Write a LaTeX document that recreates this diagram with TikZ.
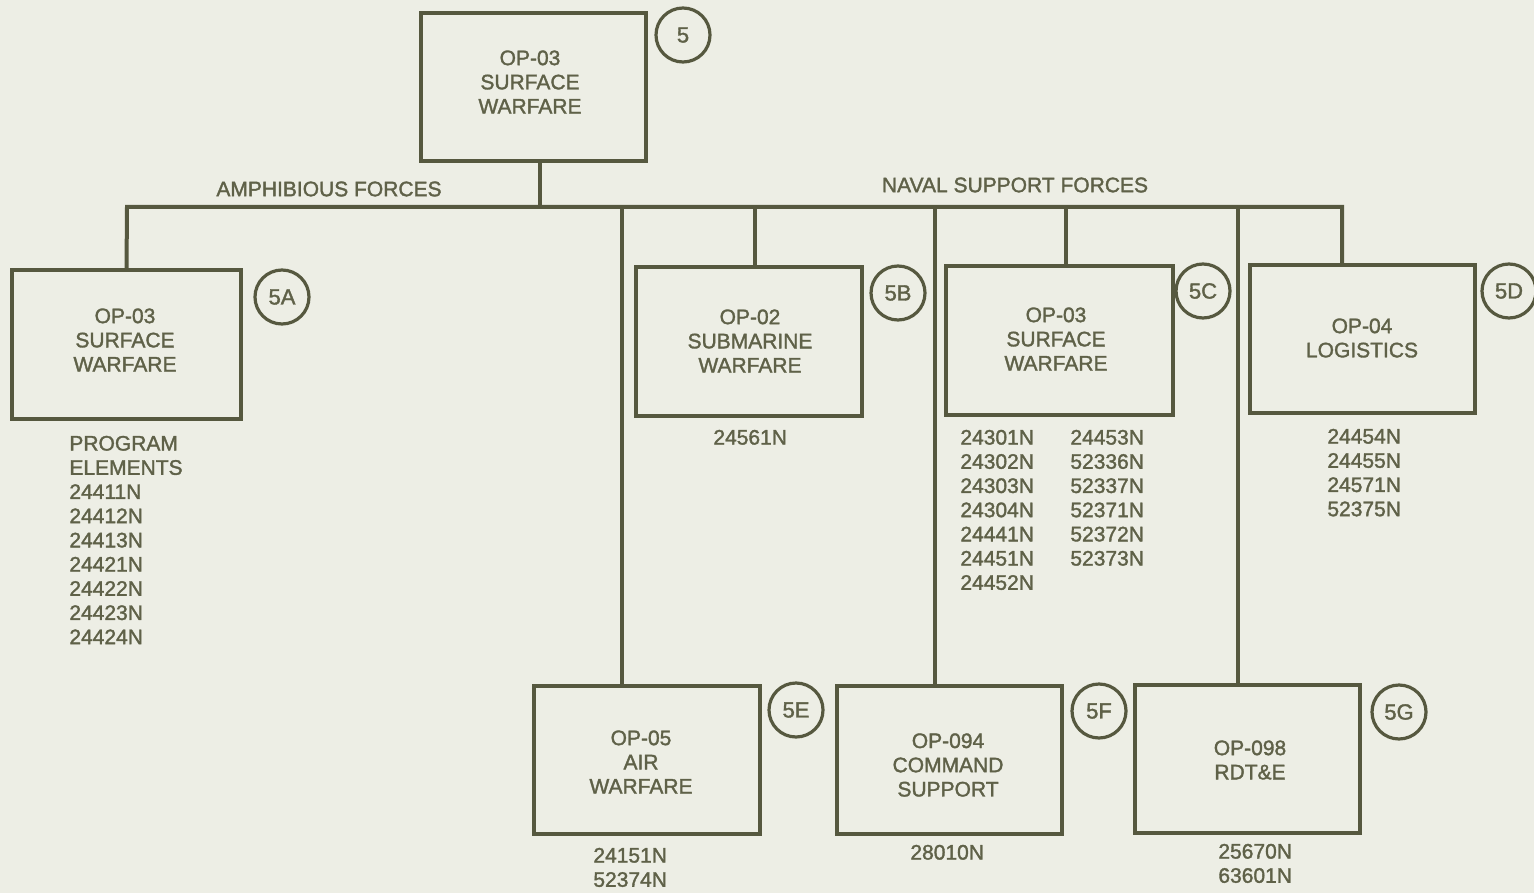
\documentclass[tikz,border=0pt]{standalone}
\usepackage{fontspec}
\setmainfont{Liberation Sans}[FakeBold=1.6]
\definecolor{bgc}{HTML}{EDEEE5}
\definecolor{inkc}{HTML}{56583F}
\definecolor{txtc}{HTML}{5F6148}
\begin{document}
\begin{tikzpicture}[x=0.5pt,y=-0.5pt,
  every node/.style={font=\fontsize{10.5}{12.1}\selectfont, text=txtc},
  orgbox/.style={draw=inkc, line width=2pt, rectangle, inner sep=0pt, outer sep=0pt},
  boxtext/.style={align=center, inner sep=0pt},
  tag/.style={draw=inkc, line width=1.6pt, circle, minimum size=27pt, inner sep=0pt, font=\fontsize{11}{12}\selectfont},
  plist/.style={align=left, anchor=north west, inner sep=0pt},
  link/.style={draw=inkc, line width=2pt}]
\fill[bgc] (0,0) rectangle (1534,893);
\useasboundingbox (0,0) rectangle (1534,893);

% boxes
\node[orgbox, minimum width=112.5pt, minimum height=74pt] (top) at (533.5,87) {};
\node[orgbox, minimum width=114.5pt, minimum height=74.5pt] (a5) at (126.5,344.5) {};
\node[orgbox, minimum width=113pt, minimum height=74.5pt] (b5) at (749,341.5) {};
\node[orgbox, minimum width=113.5pt, minimum height=74.5pt] (c5) at (1059.5,340.5) {};
\node[orgbox, minimum width=112.5pt, minimum height=74pt] (d5) at (1362.5,339) {};
\node[orgbox, minimum width=113pt, minimum height=74pt] (e5) at (647,760) {};
\node[orgbox, minimum width=112.5pt, minimum height=74pt] (f5) at (949.5,760) {};
\node[orgbox, minimum width=112.5pt, minimum height=74pt] (g5) at (1247.5,759) {};

% box texts
\node[boxtext] (toptx) at (530,82) {OP-03\\SURFACE\\WARFARE};
\node[boxtext] (a5tx) at (125,340) {OP-03\\SURFACE\\WARFARE};
\node[boxtext] (b5tx) at (750,341) {OP-02\\SUBMARINE\\WARFARE};
\node[boxtext] (c5tx) at (1056,339) {OP-03\\SURFACE\\WARFARE};
\node[boxtext] (d5tx) at (1362,338) {OP-04\\LOGISTICS};
\node[boxtext] (e5tx) at (641,762) {OP-05\\AIR\\WARFARE};
\node[boxtext] (f5tx) at (948,765) {OP-094\\COMMAND\\SUPPORT};
\node[boxtext] (g5tx) at (1250,760) {OP-098\\RDT\&E};

% tags
\node[tag] (t5) at (683,35) {5};
\node[tag] (t5a) at (282,297) {5A};
\node[tag] (t5b) at (898,293) {5B};
\node[tag] (t5c) at (1203,291) {5C};
\node[tag] (t5d) at (1509,291) {5D};
\node[tag] (t5e) at (796,710) {5E};
\node[tag] (t5f) at (1099,711) {5F};
\node[tag] (t5g) at (1399,712) {5G};

% group labels
\node (amph) at (329,189) {AMPHIBIOUS FORCES};
\node (naval) at (1015,185) {NAVAL SUPPORT FORCES};

% program element lists
\node[plist] (la) at (69,435.5) {PROGRAM\\ELEMENTS\\24411N\\24412N\\24413N\\24421N\\24422N\\24423N\\24424N};
\node[plist] (lb) at (713,429.5) {24561N};
\node[plist] (lc1) at (960,429.5) {24301N\\24302N\\24303N\\24304N\\24441N\\24451N\\24452N};
\node[plist] (lc2) at (1070,429.5) {24453N\\52336N\\52337N\\52371N\\52372N\\52373N};
\node[plist] (ld) at (1327,428.5) {24454N\\24455N\\24571N\\52375N};
\node[plist] (le) at (593,847.5) {24151N\\52374N};
\node[plist] (lf) at (910,844.5) {28010N};
\node[plist] (lg) at (1218,843.5) {25670N\\63601N};

% connectors
\coordinate (jT) at (540,207);
\coordinate (jA) at (127,207);
\coordinate (jE) at (622,207);
\coordinate (jB) at (755,207);
\coordinate (jF) at (935,207);
\coordinate (jC) at (1066,207);
\coordinate (jG) at (1238,207);
\coordinate (jD) at (1342,207);
\draw[link] (jT |- top.south) -- (jT);
\draw[link] (a5.north) -- (jA) -- (jD) -- (jD |- d5.north);
\draw[link] (jE) -- (jE |- e5.north);
\draw[link] (jB) -- (jB |- b5.north);
\draw[link] (jF) -- (jF |- f5.north);
\draw[link] (jC) -- (jC |- c5.north);
\draw[link] (jG) -- (jG |- g5.north);
\end{tikzpicture}
\end{document}
